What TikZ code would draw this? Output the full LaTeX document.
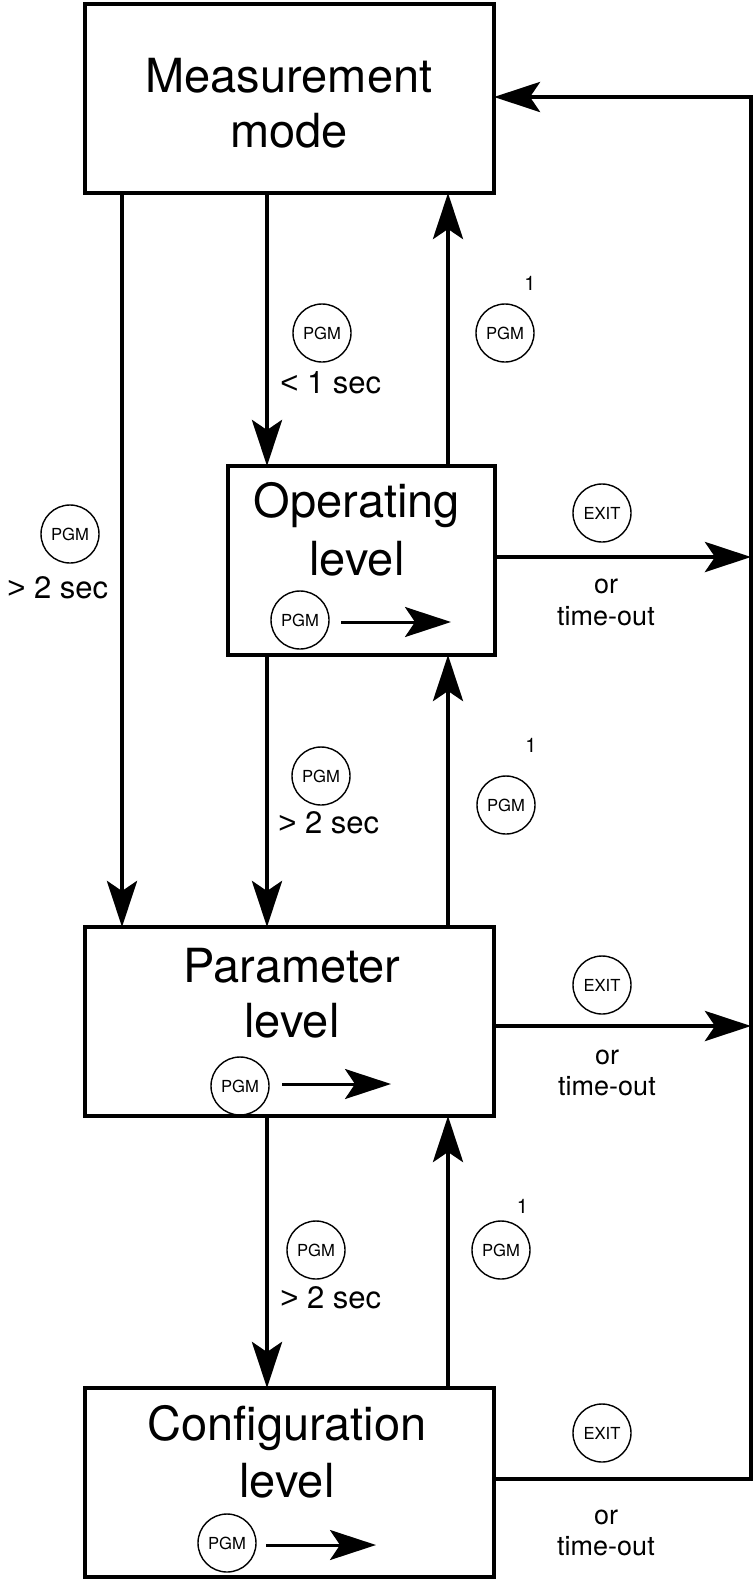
\documentclass[tikz,border=0pt]{standalone}
\usepackage{fontspec}
\setmainfont{TeX Gyre Heros}
\newfontfamily\symfam{Liberation Sans}
\usetikzlibrary{arrows.meta,fit}
\begin{document}
\begin{tikzpicture}[x=0.5pt,y=-0.5pt,
  box/.style={draw, line width=2.1pt, inner sep=0pt, outer sep=0pt},
  big/.style={font=\fontsize{23.5}{28}\selectfont, anchor=base, inner sep=0pt},
  lbl/.style={font=\fontsize{15.5}{18}\selectfont, anchor=base west, inner sep=0pt},
  orl/.style={font=\fontsize{13.5}{16}\selectfont, anchor=base, inner sep=0pt},
  supl/.style={font=\fontsize{10}{11}\selectfont, anchor=base, inner sep=0pt},
  btn/.style={draw, circle, line width=0.7pt, minimum size=29pt, inner sep=0pt, font=\fontsize{8.3}{9}\selectfont},
  conn/.style={line width=2.3pt, -{Stealth[length=23pt,width=15pt,inset=5pt]}},
  innerarrow/.style={line width=1.5pt, -{Stealth[length=23pt,width=15pt,inset=5pt]}},
]
\useasboundingbox (0,0) rectangle (754,1581);

% boxes
\node[box, fit={(85,4) (494,193)}] (meas) {};
\node[box, fit={(228,466) (495,655)}] (oper) {};
\node[box, fit={(85,927) (494,1116)}] (param) {};
\node[box, fit={(85,1388) (494,1577)}] (conf) {};

% box texts
\node[big] (measA) at (289,92) {Measurement};
\node[big] (measB) at (289,147) {mode};
\node[big] (operA) at (357,517) {Operating};
\node[big] (operB) at (357,575) {level};
\node[big] (paramA) at (292,982) {Parameter};
\node[big] (paramB) at (292,1037) {level};
\node[big] (confA) at (287,1440) {Configuration};
\node[big] (confB) at (287,1497) {level};

% inner PGM keys and arrows
\node[btn] (ipO) at (300,620) {PGM};
\coordinate (iaO1) at (341,622); \coordinate (iaO2) at (451,622);
\draw[innerarrow] (iaO1) -- (iaO2);
\node[btn] (ipP) at (240,1086) {PGM};
\coordinate (iaP1) at (282,1084); \coordinate (iaP2) at (391,1084);
\draw[innerarrow] (iaP1) -- (iaP2);
\node[btn] (ipC) at (227,1543) {PGM};
\coordinate (iaC1) at (266,1545); \coordinate (iaC2) at (376,1545);
\draw[innerarrow] (iaC1) -- (iaC2);

% column coordinates
\coordinate (cA) at (122,0);
\coordinate (cB) at (267,0);
\coordinate (cC) at (448,0);

% vertical connectors
\draw[conn] (meas.south -| cA) -- (param.north -| cA);
\draw[conn] (meas.south -| cB) -- (oper.north -| cB);
\draw[conn] (oper.north -| cC) -- (meas.south -| cC);
\draw[conn] (oper.south -| cB) -- (param.north -| cB);
\draw[conn] (param.north -| cC) -- (oper.south -| cC);
\draw[conn] (param.south -| cB) -- (conf.north -| cB);
\draw[conn] (conf.north -| cC) -- (param.south -| cC);

% exits
\coordinate (eO) at (751,557);
\coordinate (eP) at (751,1026);
\coordinate (lp1) at (751,1479);
\coordinate (lp2) at (751,97);
\draw[conn] (oper.east |- eO) -- (eO);
\draw[conn] (param.east |- eP) -- (eP);
\draw[conn, line join=miter] (conf.east |- lp1) -- (lp1) -- (lp2) -- (meas.east |- lp2);

% labels: left
\node[btn] (kL) at (70,534) {PGM};
\node[lbl] (tL) at (7,598) {{\symfam >} 2 sec};

% labels: top
\node[btn] (kT1) at (322,333) {PGM};
\node[lbl] (tT1) at (280,393) {{\symfam <} 1 sec};
\node[btn] (kT2) at (505,333) {PGM};
\node[supl] (sT2) at (530,290) {1};

% labels: middle
\node[btn] (kM1) at (321,776) {PGM};
\node[lbl] (tM1) at (278,833) {{\symfam >} 2 sec};
\node[btn] (kM2) at (506,805) {PGM};
\node[supl] (sM2) at (531,752) {1};

% labels: bottom
\node[btn] (kB1) at (316,1250) {PGM};
\node[lbl] (tB1) at (280,1308) {{\symfam >} 2 sec};
\node[btn] (kB2) at (501,1250) {PGM};
\node[supl] (sB2) at (522.5,1213) {1};

% exit labels
\node[btn] (xO) at (602,513) {EXIT};
\node[orl] (orO) at (606,593) {or};
\node[orl] (toO) at (606,625) {time-out};
\node[btn] (xP) at (602,985) {EXIT};
\node[orl] (orP) at (607,1064) {or};
\node[orl] (toP) at (607,1095) {time-out};
\node[btn] (xC) at (602,1433) {EXIT};
\node[orl] (orC) at (606,1524) {or};
\node[orl] (toC) at (606,1555) {time-out};
\end{tikzpicture}
\end{document}
